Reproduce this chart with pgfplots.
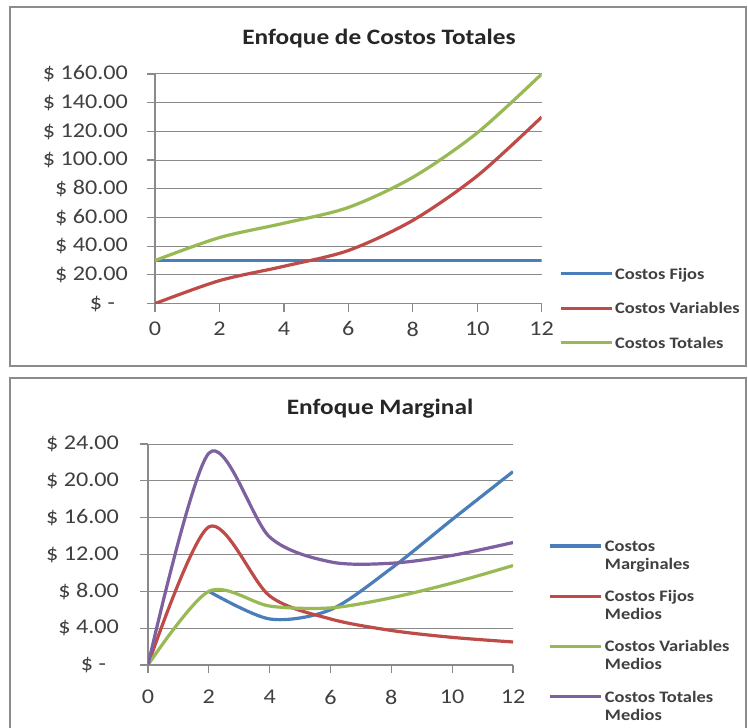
\documentclass[border=0pt]{standalone}
\usepackage{fontspec}
\setmainfont{Carlito}[FakeStretch=1.15]
\usepackage{pgfplots}
\pgfplotsset{compat=1.18}
\definecolor{cblue}{HTML}{4A7EBB}
\definecolor{cred}{HTML}{BE4B48}
\definecolor{cgreen}{HTML}{98B954}
\definecolor{cpurple}{HTML}{7D60A0}
\definecolor{gridc}{HTML}{8A8A8A}
\definecolor{framec}{HTML}{8C8C8C}
\definecolor{labc}{HTML}{404040}
\pgfplotsset{
  excel/.style={
    scale only axis,
    axis x line*=bottom, axis y line*=left,
    axis line style={draw=gridc, line width=0.6pt},
    ymajorgrids, grid style={draw=gridc, line width=0.5pt},
    tick style={draw=gridc, line width=0.6pt},
    major tick length=4pt,
    tick align=outside,
    xmin=0, xmax=12, xtick={0,2,...,12},
    ticklabel style={font=\fontsize{10.5}{12}\selectfont, text=labc},
    /pgf/number format/assume math mode=true,
    every axis plot/.append style={smooth, tension=0.5, line width=1.6pt, no markers},
    legend image code/.code={\draw[##1, line width=1.6pt] (0pt,0.28em) -- (25.5pt,0.28em);},
    legend style={draw=none, fill=none, inner sep=0pt, outer sep=0pt,
      font=\bfseries\fontsize{8}{9}\selectfont, text=labc,
      cells={anchor=base west}, nodes={inner xsep=1pt, align=left}},
  }
}
\begin{document}
\begin{tikzpicture}
\useasboundingbox (0pt,0pt) rectangle (374pt,363.5pt);
\fill[white] (0pt,0pt) rectangle (374pt,363.5pt);
\draw[framec, line width=1.2pt] (5pt,180.5pt) rectangle (373pt,360pt);
\draw[framec, line width=1.2pt] (5pt,-3pt) rectangle (373pt,174.5pt);
\node[font=\bfseries\fontsize{11}{13}\selectfont, text=black!85] at (189.5pt,344pt) {Enfoque de Costos Totales};
\node[font=\bfseries\fontsize{11}{13}\selectfont, text=black!85] at (190pt,159pt) {Enfoque Marginal};

\begin{axis}[excel,
  at={(77.5pt,211.7pt)}, anchor=south west,
  width=193.35pt, height=114.8pt,
  ymin=0, ymax=160, ytick={0,20,...,160},
  yticklabels={\$ -\hspace*{6.5pt},\$ 20.00,\$ 40.00,\$ 60.00,\$ 80.00,\$ 100.00,\$ 120.00,\$ 140.00,\$ 160.00},
  yticklabel style={xshift=-6pt},
  xticklabel style={yshift=-1.5pt},
  legend style={at={(axis description cs:1.0447,0.1725)}, anchor=north west, row sep=6.2pt},
]
\addplot[cblue] coordinates {(0,30) (2,30) (4,30) (6,30) (8,30) (10,30) (12,30)};
\addlegendentry{Costos Fijos}
\addplot[cred] coordinates {(0,0) (2,16) (4,26) (6,37) (8,58) (10,89) (12,130)};
\addlegendentry{Costos Variables}
\addplot[cgreen] coordinates {(0,30) (2,46) (4,56) (6,67) (8,88) (10,119) (12,160)};
\addlegendentry{Costos Totales}
\end{axis}

\begin{axis}[excel,
  at={(74pt,31pt)}, anchor=south west,
  width=182.5pt, height=110.5pt,
  ymin=0, ymax=24, ytick={0,4,...,24},
  yticklabels={\$ -\hspace*{6.5pt},\$ 4.00,\$ 8.00,\$ 12.00,\$ 16.00,\$ 20.00,\$ 24.00},
  yticklabel style={xshift=-7pt},
  xticklabel style={yshift=-5pt},
  legend image code/.code={\draw[#1, line width=1.6pt] (0pt,9pt+0.28em) -- (25.5pt,9pt+0.28em);},
  legend style={at={(axis description cs:1.098,0.579)}, anchor=north west, row sep=5pt},
]
\addplot[cblue] coordinates {(2,8) (4,5) (6,6) (8,10.5) (10,15.8) (12,21)};
\addlegendentry{Costos\\Marginales}
\addplot[cred] coordinates {(0,0) (2,15) (4,7.5) (6,5) (8,3.75) (10,3) (12,2.5)};
\addlegendentry{Costos Fijos\\Medios}
\addplot[cgreen] coordinates {(0,0) (2,8) (4,6.4) (6,6.2) (8,7.3) (10,8.9) (12,10.8)};
\addlegendentry{Costos Variables\\Medios}
\addplot[cpurple] coordinates {(0,0) (2,23) (4,13.9) (6,11.2) (8,11.05) (10,11.9) (12,13.3)};
\addlegendentry{Costos Totales\\Medios}
\end{axis}
\end{tikzpicture}
\end{document}
